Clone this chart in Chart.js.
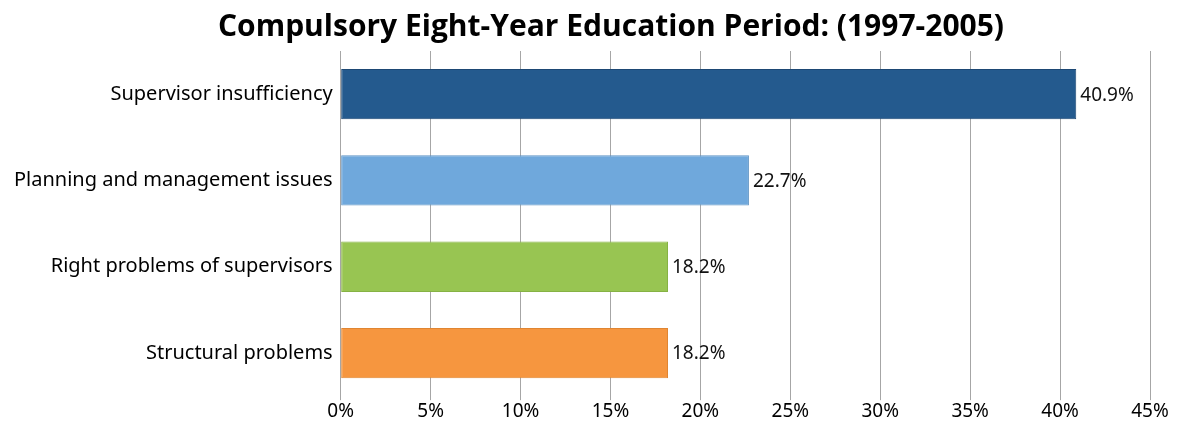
<!DOCTYPE html>
<html lang="en">
<head>
<meta charset="UTF-8">
<title>Compulsory Eight-Year Education Period</title>
<style>
  html, body { margin: 0; padding: 0; background: #ffffff; }
  #wrap { width: 1177px; height: 423px; }
</style>
</head>
<body>
<div id="wrap"><canvas id="grafico" width="1177" height="423"></canvas></div>
<script src="https://cdn.jsdelivr.net/npm/chart.js"></script>
<script>
// dados do gráfico
var categorias = ['Supervisor insufficiency', 'Planning and management issues', 'Right problems of supervisors', 'Structural problems'];
var valores = [40.9, 22.7, 18.2, 18.2];
var rotulos = ['40.9%', '22.7%', '18.2%', '18.2%'];
var titulo = 'Compulsory Eight-Year Education Period: (1997-2005)';

var cores = ['#245a8e', '#6fa8dc', '#98c552', '#f6963f'];
var bordas = ['#1d4874', '#5f94c4', '#86b244', '#e08532'];

// título desenhado à mão para acertar a posição
var tituloPlugin = {
    id: 'tituloPlugin',
    afterDraw: function(chart) {
        var ctx = chart.ctx;
        ctx.save();
        ctx.font = 'bold 30px "Open Sans"';
        ctx.fillStyle = '#000';
        ctx.textAlign = 'center';
        ctx.textBaseline = 'middle';
        ctx.fillText(titulo, 611, 27);
        ctx.restore();
    }
};

// rótulos no fim das barras
var rotuloPlugin = {
    id: 'rotuloPlugin',
    afterDatasetsDraw: function(chart) {
        var ctx = chart.ctx;
        var meta = chart.getDatasetMeta(0);
        ctx.save();
        ctx.font = '19px "Noto Sans"';
        ctx.fillStyle = '#111';
        ctx.textAlign = 'left';
        ctx.textBaseline = 'middle';
        meta.data.forEach(function(bar, i) {
            ctx.fillText(rotulos[i], bar.x + 4, bar.y + 1);
        });
        ctx.restore();
    }
};

new Chart(document.getElementById('grafico').getContext('2d'), {
    type: 'bar',
    data: {
        labels: categorias,
        datasets: [{
            data: valores,
            backgroundColor: cores,
            borderColor: bordas,
            borderWidth: 1,
            borderSkipped: false,
            barPercentage: 0.72,
            categoryPercentage: 0.81
        }]
    },
    options: {
        indexAxis: 'y',
        responsive: false,
        animation: false,
        layout: { padding: { top: 51, left: 14, right: 27, bottom: 0 } },
        plugins: {
            legend: { display: false },
            title: { display: false },
            tooltip: { enabled: false }
        },
        scales: {
            x: {
                min: 0,
                max: 45,
                ticks: {
                    stepSize: 5,
                    color: '#000',
                    font: { family: '"Noto Sans"', size: 19 },
                    padding: 0,
                    callback: function(v) { return v + '%'; }
                },
                grid: { color: '#a6a6a6', lineWidth: 1, tickLength: 4, drawTicks: true },
                border: { display: false }
            },
            y: {
                ticks: {
                    color: '#000',
                    font: { family: '"Noto Sans"', size: 20 },
                    padding: 0
                },
                grid: { display: false },
                border: { display: true, color: '#a6a6a6' }
            }
        }
    },
    plugins: [tituloPlugin, rotuloPlugin]
});
</script>
</body>
</html>
